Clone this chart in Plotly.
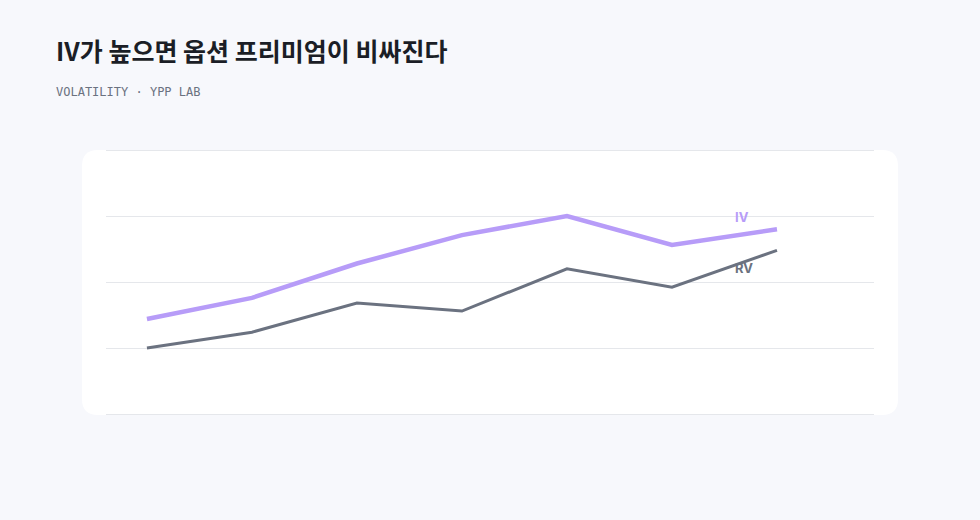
import plotly.graph_objects as go

categories = ["W1", "W2", "W3", "W4", "W5", "W6", "W7"]
iv_values = [24.4, 27.6, 32.8, 37.1, 40.0, 35.6, 38.0]
rv_values = [20.0, 22.4, 26.8, 25.6, 32.0, 29.2, 34.8]
y_ticks = [10, 20, 30, 40, 50]

title_text = "IV가 높으면 옵션 프리미엄이 비싸진다"
subtitle_text = "VOLATILITY · YPP LAB"

IV_COLOR = "#b79cf8"
RV_COLOR = "#6b7280"
GRID_COLOR = "#e5e7eb"
W, H = 980, 520
L, R, T, B = 106, 106, 150, 106
PW, PH = W - L - R, H - T - B
Y_RANGE = [y_ticks[0], y_ticks[-1]]


def px_x(p):
    return (p - L) / PW


def px_y(p):
    return 1 - (p - T) / PH


fig = go.Figure()
fig.add_trace(go.Scatter(x=categories, y=iv_values, mode="lines", name="IV",
                         line=dict(color=IV_COLOR, width=4.5), hoverinfo="skip"))
fig.add_trace(go.Scatter(x=categories, y=rv_values, mode="lines", name="RV",
                         line=dict(color=RV_COLOR, width=3), hoverinfo="skip"))

# rounded white card
x0, x1, y0, y1, r = 82, 898, 150, 415, 16
rx, ry = r / PW, r / PH
X0, X1, Y0, Y1 = px_x(x0), px_x(x1), px_y(y1), px_y(y0)
path = (f"M {X0+rx},{Y0} L {X1-rx},{Y0} Q {X1},{Y0} {X1},{Y0+ry} "
        f"L {X1},{Y1-ry} Q {X1},{Y1} {X1-rx},{Y1} L {X0+rx},{Y1} "
        f"Q {X0},{Y1} {X0},{Y1-ry} L {X0},{Y0+ry} Q {X0},{Y0} {X0+rx},{Y0} Z")
fig.add_shape(type="path", path=path, xref="paper", yref="paper",
              fillcolor="#ffffff", line=dict(width=0), layer="below")

# horizontal gridlines (including the edges), unclipped, snapped to pixel rows
half_px = 0.5 / PH
for v in y_ticks:
    yp = (v - Y_RANGE[0]) / (Y_RANGE[1] - Y_RANGE[0]) - half_px
    fig.add_shape(type="line", xref="paper", yref="paper", x0=0, x1=1, y0=yp, y1=yp,
                  line=dict(color=GRID_COLOR, width=1), layer="below")

fig.add_annotation(x=categories[-1], y=iv_values[-1], text="<b>IV</b>", showarrow=False,
                   xshift=-35, yshift=12, font=dict(family="Inter, Noto Sans", size=13, color=IV_COLOR))
fig.add_annotation(x=categories[-1], y=rv_values[-1], text="<b>RV</b>", showarrow=False,
                   xshift=-33, yshift=-18, font=dict(family="Inter, Noto Sans", size=13, color=RV_COLOR))

fig.add_annotation(xref="paper", yref="paper", x=px_x(54), y=px_y(50), xanchor="left", yanchor="middle",
                   text=f"<b>{title_text}</b>", showarrow=False,
                   font=dict(family="Noto Sans CJK KR", size=25, color="#1b1e26"))
fig.add_annotation(xref="paper", yref="paper", x=px_x(54), y=px_y(92), xanchor="left", yanchor="middle",
                   text=subtitle_text, showarrow=False,
                   font=dict(family="DejaVu Sans Mono", size=12, color="#6b7280"))

fig.update_layout(
    width=W, height=H,
    margin=dict(l=L, r=R, t=T, b=B),
    paper_bgcolor="#f7f8fc", plot_bgcolor="rgba(0,0,0,0)",
    showlegend=False,
    xaxis=dict(type="category", range=[-0.39, 6.924], showgrid=False, zeroline=False,
               showticklabels=False, showline=False, ticks=""),
    yaxis=dict(range=Y_RANGE, tickvals=y_ticks, showgrid=False,
               zeroline=False, showticklabels=False, showline=False, ticks=""),
)

fig.write_html("out.html", config={"displayModeBar": False})
